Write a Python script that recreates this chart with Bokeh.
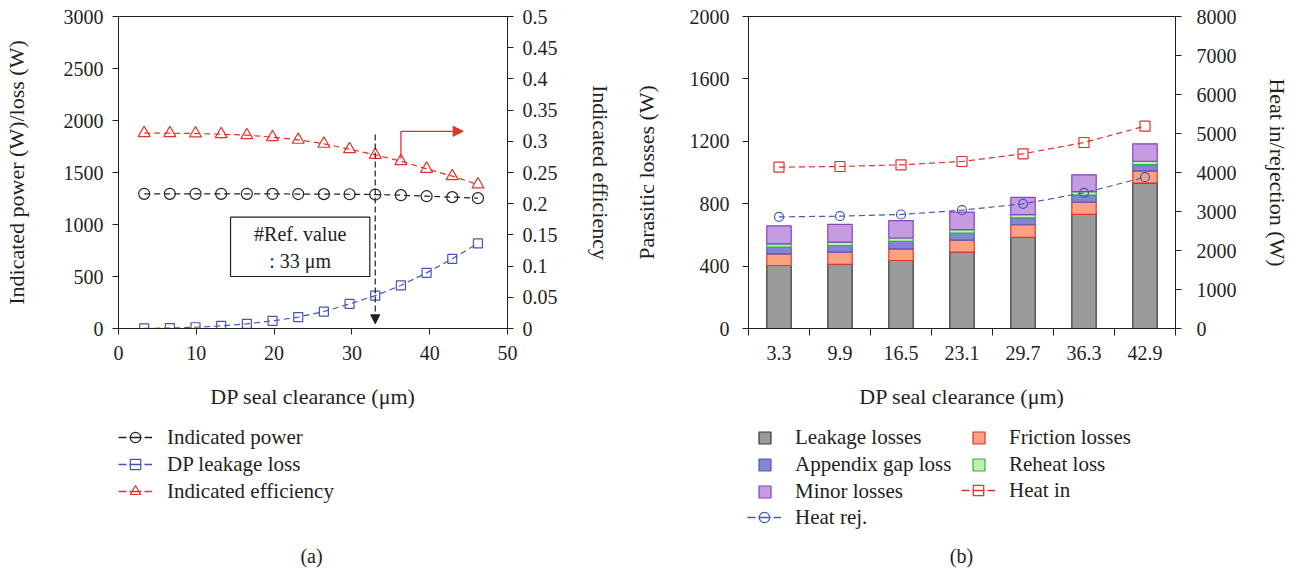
from bokeh.plotting import figure
from bokeh.models import (Range1d, LinearAxis, FixedTicker, NumeralTickFormatter, Legend,
                          LegendItem, Arrow, NormalHead, BoxAnnotation, Label, ColumnDataSource)
from bokeh.layouts import row, column
from bokeh.embed import file_html
from bokeh.resources import INLINE

FONT = "Liberation Serif"
TXT = "#231f20"
RED = "#e4312b"
BLUE = "#4655bb"

# ---------------- (a) data ----------------
clearance = [3.3, 6.6, 9.9, 13.2, 16.5, 19.8, 23.1, 26.4, 29.7, 33.0, 36.3, 39.6, 42.9, 46.2]
indicated_power = [1295, 1295, 1295, 1295, 1295, 1294, 1293, 1292, 1291, 1288, 1282, 1272, 1263, 1253]
dp_leakage_loss = [1, 4, 12, 25, 45, 73, 110, 163, 236, 316, 414, 535, 670, 818]
indicated_eff = [0.313, 0.313, 0.3125, 0.3114, 0.3098, 0.3066, 0.3024, 0.296, 0.2874,
                 0.2783, 0.2682, 0.2559, 0.2441, 0.2308]
REF_CLEARANCE = 33

# ---------------- (b) data ----------------
categories = ["3.3", "9.9", "16.5", "23.1", "29.7", "36.3", "42.9"]
leakage_losses = [404, 412, 436, 489, 585, 731, 932]
friction_losses = [75, 77, 75, 77, 80, 79, 79]
appendix_gap_loss = [42, 43, 47, 45, 44, 45, 40]
reheat_loss = [21, 22, 22, 23, 21, 22, 21]
minor_losses = [116, 113, 112, 112, 110, 108, 112]
heat_in = [4137, 4154, 4197, 4282, 4479, 4769, 5188]
heat_rej = [2863, 2880, 2923, 3034, 3197, 3479, 3880]

bar_names = ["Leakage losses", "Friction losses", "Appendix gap loss", "Reheat loss", "Minor losses"]
bar_fill = ["#9a9a9a", "#fba184", "#8585d6", "#bff0b0", "#c69ce0"]
bar_line = ["#3a3a3a", "#e2352b", "#5858b8", "#2fb34a", "#8a3fc4"]

TOP_H = 420
LEG_H = 571 - TOP_H
W1, W2 = 630, 662


def style_axis(ax, standoff, label_standoff, tick_out=6):
    ax.major_tick_out = tick_out
    ax.major_tick_in = 0
    ax.minor_tick_out = 0
    ax.minor_tick_in = 0
    ax.major_label_standoff = standoff
    ax.axis_label_standoff = label_standoff
    ax.major_label_text_font = FONT
    ax.major_label_text_font_size = "20px"
    ax.major_label_text_color = TXT
    ax.axis_label_text_font = FONT
    ax.axis_label_text_font_size = "22px"
    ax.axis_label_text_font_style = "normal"
    ax.axis_label_text_color = TXT
    ax.axis_line_color = TXT
    ax.major_tick_line_color = TXT
    ax.minor_tick_line_color = TXT


def base_fig(width, left, right):
    p = figure(width=width, height=TOP_H, output_backend="svg", toolbar_location=None,
               min_border_left=left, min_border_right=right, min_border_top=16,
               min_border_bottom=TOP_H - 16 - 312)
    p.xgrid.visible = False
    p.ygrid.visible = False
    p.outline_line_color = TXT
    p.outline_line_alpha = 1
    p.background_fill_color = "white"
    p.border_fill_color = "white"
    return p


def legend_fig(width):
    f = figure(width=width, height=LEG_H, output_backend="svg", toolbar_location=None,
               x_range=Range1d(0, 1), y_range=Range1d(0, 1), x_axis_type=None,
               y_axis_type=None, min_border=0, min_border_left=0, min_border_right=0,
               min_border_top=0, min_border_bottom=0)
    f.xgrid.visible = False
    f.ygrid.visible = False
    f.outline_line_color = None
    f.background_fill_color = "white"
    f.border_fill_color = "white"
    return f


def legend(items, loc, gw, standoff):
    return Legend(items=items, location=loc, glyph_width=gw,
                  glyph_height=26 if gw > 20 else 15,
                  label_height=27, spacing=0, padding=0, margin=0, label_standoff=standoff,
                  background_fill_alpha=0, border_line_alpha=0,
                  label_text_font=FONT, label_text_font_size="21px", label_text_color=TXT)


def caption(fig, x, text):
    fig.add_layout(Label(x=x, y=16, x_units="screen", y_units="screen", text=text,
                         text_align="center", text_baseline="middle", text_font=FONT,
                         text_font_size="20px", text_color=TXT))


dash = "6 4"
line_kw = dict(line_dash=dash, line_width=1.2)
leg_line_kw = dict(line_dash="8 3 12 3", line_width=1.3)
mk_kw = dict(fill_alpha=0, line_width=1.2)
# legend-only proxy renderers sit outside the (0..1) range of the legend canvases
PX, PY = [-5], [-5]

# ================= panel (a) =================
p1 = base_fig(W1, 115, 123)
p1.x_range = Range1d(0, 50)
p1.y_range = Range1d(0, 3000)
p1.extra_y_ranges = {"eff": Range1d(0, 0.5)}

p1.xaxis.ticker = FixedTicker(ticks=[0, 10, 20, 30, 40, 50])
p1.yaxis.ticker = FixedTicker(ticks=[0, 500, 1000, 1500, 2000, 2500, 3000])
p1.xaxis.axis_label = "DP seal clearance (μm)"
p1.yaxis.axis_label = "Indicated power (W)/loss (W)"
style_axis(p1.xaxis[0], 11, 21)
style_axis(p1.yaxis[0], 9, 32)

eff_axis = LinearAxis(y_range_name="eff", axis_label="Indicated efficiency",
                      ticker=FixedTicker(ticks=[round(0.05 * i, 2) for i in range(11)]),
                      formatter=NumeralTickFormatter(format="0.[00]"))
style_axis(eff_axis, 9, 27)
p1.add_layout(eff_axis, "right")

p1.line(clearance, indicated_power, line_color=TXT, **line_kw)
p1.scatter(clearance, indicated_power, marker="circle", size=11, line_color=TXT, **mk_kw)
p1.line(clearance, dp_leakage_loss, line_color=BLUE, **line_kw)
p1.scatter(clearance, dp_leakage_loss, marker="square", size=9, line_color=BLUE, **mk_kw)
p1.line(clearance, indicated_eff, line_color=RED, y_range_name="eff", **line_kw)
p1.scatter(clearance, indicated_eff, marker="triangle", size=12, line_color=RED,
           y_range_name="eff", **mk_kw)

# reference clearance arrow
p1.add_layout(Arrow(end=NormalHead(size=9, fill_color=TXT, line_color=TXT),
                    x_start=REF_CLEARANCE, y_start=1865, x_end=REF_CLEARANCE, y_end=45,
                    line_color=TXT, line_dash="6 3", line_width=1.2))
p1.add_layout(BoxAnnotation(left=14.4, right=32.3, bottom=500, top=1070, fill_color="white",
                            fill_alpha=1, line_color=TXT, line_width=1.2, line_alpha=1))
p1.add_layout(Label(x=23.35, y=905, text="#Ref. value", text_align="center",
                    text_baseline="middle", text_font=FONT, text_font_size="20px",
                    text_color=TXT))
p1.add_layout(Label(x=23.35, y=650, text=": 33 μm", text_align="center",
                    text_baseline="middle", text_font=FONT, text_font_size="20px",
                    text_color=TXT))
ax_x = clearance[10]
p1.add_layout(Arrow(end=None, x_start=ax_x, y_start=indicated_eff[10] + 0.004, x_end=ax_x,
                    y_end=0.316, line_color=RED, line_width=1.3, y_range_name="eff"))
p1.add_layout(Arrow(end=NormalHead(size=10, fill_color=RED, line_color=RED), x_start=ax_x,
                    y_start=0.316, x_end=44.3, y_end=0.316, line_color=RED, line_width=1.3,
                    y_range_name="eff"))

# legend (a)
lf1 = legend_fig(W1)
items_a = []
for lab, col, mk, sz in [("Indicated power", TXT, "circle", 11),
                         ("DP leakage loss", BLUE, "square", 9),
                         ("Indicated efficiency", RED, "triangle", 12)]:
    rl = lf1.line(PX, PY, line_color=col, **leg_line_kw)
    rm = lf1.scatter(PX, PY, marker=mk, size=sz, line_color=col, **mk_kw)
    items_a.append(LegendItem(label=lab, renderers=[rl, rm]))
lf1.add_layout(legend(items_a, (118, 66.5), 34, 15))
caption(lf1, 311, "(a)")

# ================= panel (b) =================
p2 = base_fig(W2, 117, 117)
xpos = [i + 0.5 for i in range(len(categories))]
p2.x_range = Range1d(0, len(categories))
p2.y_range = Range1d(0, 2000)
p2.extra_y_ranges = {"heat": Range1d(0, 8000)}

p2.xaxis.ticker = FixedTicker(ticks=xpos, minor_ticks=list(range(len(categories) + 1)))
p2.xaxis.major_label_overrides = {x: c for x, c in zip(xpos, categories)}
p2.yaxis.ticker = FixedTicker(ticks=[0, 400, 800, 1200, 1600, 2000])
p2.xaxis.axis_label = "DP seal clearance (μm)"
p2.yaxis.axis_label = "Parasitic losses (W)"
style_axis(p2.xaxis[0], 10, 21, tick_out=0)
p2.xaxis.minor_tick_out = 7
style_axis(p2.yaxis[0], 13, 28)

heat_axis = LinearAxis(y_range_name="heat", axis_label="Heat in/rejection (W)",
                       ticker=FixedTicker(ticks=[1000 * i for i in range(9)]))
style_axis(heat_axis, 15, 25)
p2.add_layout(heat_axis, "right")

src = ColumnDataSource(dict(x=xpos, leakage=leakage_losses, friction=friction_losses,
                            appendix=appendix_gap_loss, reheat=reheat_loss,
                            minor=minor_losses))
p2.vbar_stack(["leakage", "friction", "appendix", "reheat", "minor"], x="x", width=0.4,
              source=src, fill_color=bar_fill, line_color=bar_line, line_width=1.2)

p2.line(xpos, heat_in, line_color=RED, y_range_name="heat", **line_kw)
p2.scatter(xpos, heat_in, marker="square", size=10, line_color=RED, y_range_name="heat", **mk_kw)
p2.line(xpos, heat_rej, line_color=BLUE, y_range_name="heat", **line_kw)
p2.scatter(xpos, heat_rej, marker="circle", size=9, line_color=BLUE, y_range_name="heat", **mk_kw)

# legend (b)
lf2 = legend_fig(W2)
bar_items = []
for name, fc, lc in zip(bar_names, bar_fill, bar_line):
    r = lf2.vbar(x=PX, top=PY, bottom=[-6], width=0.4, fill_color=fc, line_color=lc,
                 line_width=1.2)
    bar_items.append(LegendItem(label=name, renderers=[r]))
hin_l = lf2.line(PX, PY, line_color=RED, **leg_line_kw)
hin_m = lf2.scatter(PX, PY, marker="square", size=10, line_color=RED, **mk_kw)
hrj_l = lf2.line(PX, PY, line_color=BLUE, **leg_line_kw)
hrj_m = lf2.scatter(PX, PY, marker="circle", size=9, line_color=BLUE, **mk_kw)

lf2.add_layout(legend([bar_items[0], bar_items[2], bar_items[4]], (127, 66.5), 15, 23))
lf2.add_layout(legend([LegendItem(label="Heat rej.", renderers=[hrj_l, hrj_m])],
                      (117, 40.5), 34, 14))
lf2.add_layout(legend([bar_items[1], bar_items[3]], (341, 93.5), 15, 23))
lf2.add_layout(legend([LegendItem(label="Heat in", renderers=[hin_l, hin_m])],
                      (331, 67.5), 34, 14))
caption(lf2, 331, "(b)")

layout = column(row(p1, p2), row(lf1, lf2))
open("out.html", "w").write(file_html(layout, INLINE))
